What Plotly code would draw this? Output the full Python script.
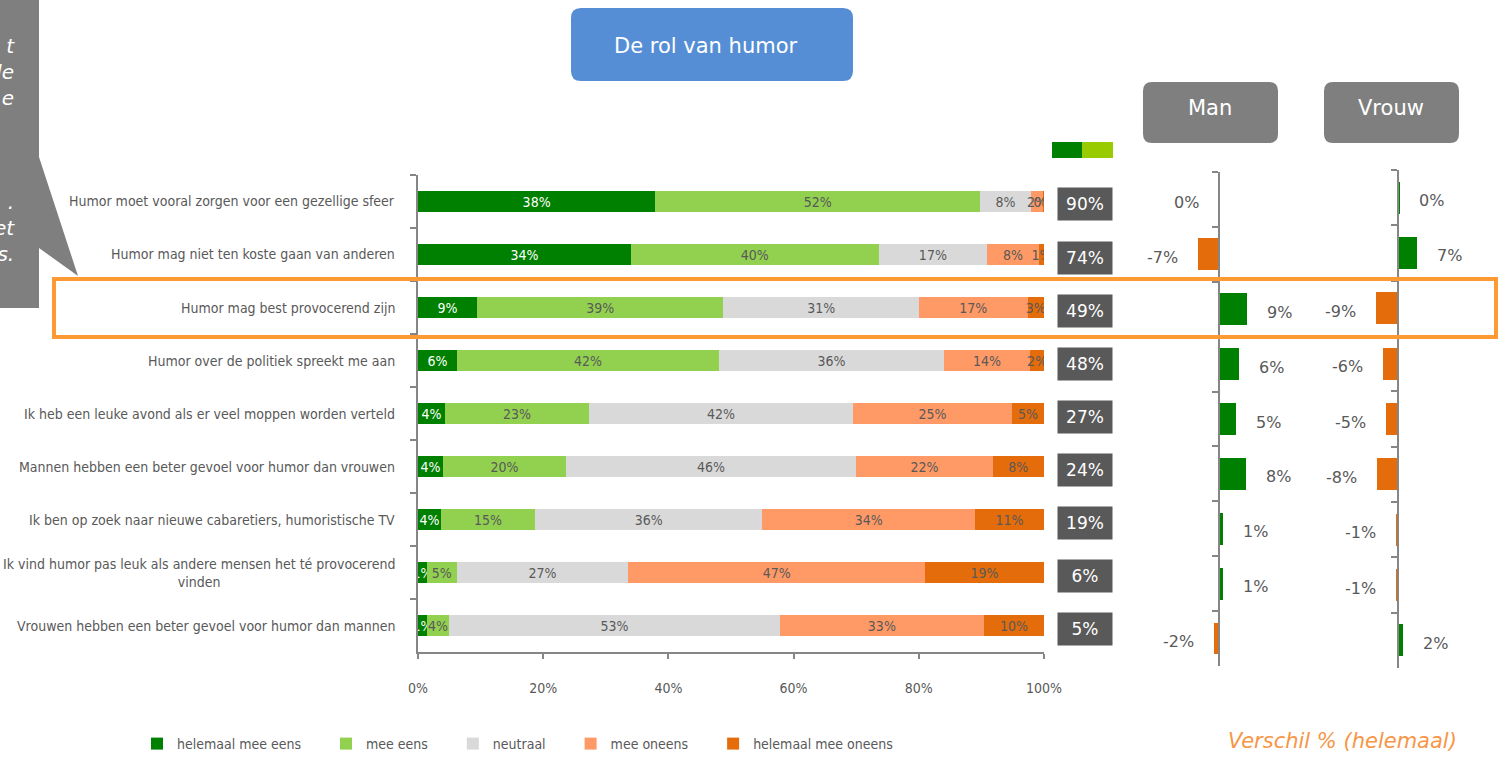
import plotly.graph_objects as go

W, H = 1498, 757

categories = [
    "Humor moet vooral zorgen voor een gezellige sfeer",
    "Humor mag niet ten koste gaan van anderen",
    "Humor mag best provocerend zijn",
    "Humor over de politiek spreekt me aan",
    "Ik heb een leuke avond als er veel moppen worden verteld",
    "Mannen hebben een beter gevoel voor humor dan vrouwen",
    "Ik ben op zoek naar nieuwe cabaretiers, humoristische TV",
    "Ik vind humor pas leuk als andere mensen het té provocerend<br>vinden",
    "Vrouwen hebben een beter gevoel voor humor dan mannen",
]

series_names = ["helemaal mee eens", "mee eens", "neutraal", "mee oneens", "helemaal mee oneens"]

helemaal_mee_eens = [37.9, 34.0, 9.4, 6.2, 4.3, 4.0, 3.7, 1.4, 1.4]
mee_eens = [51.9, 39.6, 39.4, 41.9, 23.0, 19.6, 15.0, 4.8, 3.6]
neutraal = [8.1, 17.3, 31.2, 35.9, 42.2, 46.4, 36.3, 27.4, 52.8]
mee_oneens = [2.0, 8.3, 17.4, 13.8, 25.4, 21.8, 34.0, 47.4, 32.6]
helemaal_mee_oneens = [0.1, 0.8, 2.6, 2.2, 5.1, 8.2, 11.0, 19.0, 9.6]

verschil_man = [-0.1, -6.6, 8.8, 6.4, 5.3, 8.4, 1.3, 1.3, -1.6]
verschil_vrouw = [0.4, 7.2, -8.6, -5.8, -4.6, -8.2, -0.8, -0.8, 1.8]

x_ticks = [0, 20, 40, 60, 80, 100]

series_values = [helemaal_mee_eens, mee_eens, neutraal, mee_oneens, helemaal_mee_oneens]
series_colors = ["#008000", "#92D050", "#D9D9D9", "#FF9966", "#E46C0A"]
series_text_colors = ["#FFFFFF", "#595959", "#595959", "#595959", "#595959"]

NARROW = "Liberation Sans Narrow, DejaVu Sans Condensed, Arial Narrow, sans-serif"
WIDE = "DejaVu Sans, Verdana, sans-serif"
GREY_TXT = "#595959"
AXIS_COL = "#868686"
POS_COL = "#008000"
NEG_COL = "#E46C0A"
PAD = "\u00a0" * 5


def px(x):
    return x / W


def py(y):
    return 1 - y / H


def rounded_rect(x0, y0, x1, y1, r):
    rx, ry = r / W, r / H
    X0, X1 = px(x0), px(x1)
    Y0, Y1 = py(y0), py(y1)
    return (f"M{X0+rx},{Y0} L{X1-rx},{Y0} Q{X1},{Y0} {X1},{Y0-ry} "
            f"L{X1},{Y1+ry} Q{X1},{Y1} {X1-rx},{Y1} L{X0+rx},{Y1} "
            f"Q{X0},{Y1} {X0},{Y1+ry} L{X0},{Y0-ry} Q{X0},{Y0} {X0+rx},{Y0} Z")


fig = go.Figure()

# main stacked bars
for i, (name, vals, col, tcol) in enumerate(zip(series_names, series_values, series_colors, series_text_colors)):
    fig.add_trace(go.Bar(
        y=categories, x=vals, orientation="h",
        name=name + (PAD if i < len(series_names) - 1 else ""),
        marker=dict(color=col, line=dict(width=0)),
        width=0.38,
        text=[f"{round(v)}%" for v in vals],
        textposition="inside", insidetextanchor="middle", textangle=0, constraintext="none",
        textfont=dict(family=NARROW, size=14, color=tcol),
        xaxis="x", yaxis="y", hoverinfo="skip",
    ))

# difference panels
for vals, xa, ya in [(verschil_man, "x2", "y2"), (verschil_vrouw, "x3", "y3")]:
    fig.add_trace(go.Bar(
        y=categories, x=vals, orientation="h", showlegend=False,
        marker=dict(color=[POS_COL if v >= 0 else NEG_COL for v in vals], line=dict(width=0)),
        width=0.58, xaxis=xa, yaxis=ya, hoverinfo="skip",
    ))

annotations = []

# category labels (centered multi-line, right anchored)
for c in categories:
    annotations.append(dict(
        xref="paper", yref="y", x=px(397), y=c, xanchor="right", yanchor="middle",
        text=c, showarrow=False, align="center",
        font=dict(family=NARROW, size=14, color=GREY_TXT),
    ))

# total (top-2) boxes
for c, a, b in zip(categories, helemaal_mee_eens, mee_eens):
    annotations.append(dict(
        xref="paper", yref="y", x=px(1085), y=c, yshift=-3,
        xanchor="center", yanchor="middle", text=f"{round(a + b)}%", showarrow=False,
        width=54, height=32, bgcolor="#595959", borderpad=0,
        font=dict(family=WIDE, size=17, color="#FFFFFF"),
    ))

# difference labels
for vals, xa, ya in [(verschil_man, "x2", "y2"), (verschil_vrouw, "x3", "y3")]:
    for c, v in zip(categories, vals):
        pos = v > 0
        annotations.append(dict(
            xref=xa, yref=ya, x=v, y=c, yshift=-3,
            xanchor="left" if pos else "right", xshift=18 if pos else -18,
            text=f"{round(v)}%", showarrow=False,
            font=dict(family=WIDE, size=16, color=GREY_TXT),
        ))

# headers and texts
annotations += [
    dict(xref="paper", yref="paper", x=px(706), y=py(46), text="De rol van humor", showarrow=False,
         xanchor="center", yanchor="middle", font=dict(family=WIDE, size=21, color="#FFFFFF")),
    dict(xref="paper", yref="paper", x=px(1210), y=py(108), text="Man", showarrow=False,
         xanchor="center", yanchor="middle", font=dict(family=WIDE, size=21, color="#FFFFFF")),
    dict(xref="paper", yref="paper", x=px(1391), y=py(108), text="Vrouw", showarrow=False,
         xanchor="center", yanchor="middle", font=dict(family=WIDE, size=21, color="#FFFFFF")),
    dict(xref="paper", yref="paper", x=px(1459), y=py(741), text="Verschil % (helemaal)", showarrow=False,
         xanchor="right", yanchor="middle", font=dict(family=WIDE, size=21, color="#F79646", style="italic")),
    dict(xref="paper", yref="paper", x=px(17), y=py(150), text="t<br>le<br>e<br> <br> <br> <br>.<br>et<br>s.",
         showarrow=False, xanchor="right", yanchor="middle", align="right",
         font=dict(family=WIDE, size=20, color="#FFFFFF", style="italic")),
]

shapes = [
    # callout
    dict(type="path", xref="paper", yref="paper", layer="below",
         path=(f"M{px(-2)},{py(-2)} L{px(39)},{py(-2)} L{px(39)},{py(157)} L{px(78)},{py(276)} "
               f"L{px(39)},{py(248)} L{px(39)},{py(308)} L{px(-2)},{py(308)} Z"),
         fillcolor="#7F7F7F", line=dict(width=0)),
    # title box
    dict(type="path", xref="paper", yref="paper", layer="below",
         path=rounded_rect(571, 8, 853, 81, 10), fillcolor="#558ED5", line=dict(width=0)),
    # Man / Vrouw headers
    dict(type="path", xref="paper", yref="paper", layer="below",
         path=rounded_rect(1143, 82, 1278, 143, 9), fillcolor="#7F7F7F", line=dict(width=0)),
    dict(type="path", xref="paper", yref="paper", layer="below",
         path=rounded_rect(1324, 82, 1459, 143, 9), fillcolor="#7F7F7F", line=dict(width=0)),
    # small key above totals
    dict(type="rect", xref="paper", yref="paper", x0=px(1052), x1=px(1082), y0=py(158), y1=py(142),
         fillcolor="#008000", line=dict(width=0)),
    dict(type="rect", xref="paper", yref="paper", x0=px(1082), x1=px(1113), y0=py(158), y1=py(142),
         fillcolor="#99CC00", line=dict(width=0)),
    # highlight rectangle
    dict(type="rect", xref="paper", yref="paper", x0=px(54), x1=px(1496), y0=py(337), y1=py(279),
         fillcolor="rgba(0,0,0,0)", line=dict(color="#FF9933", width=4), layer="above"),
]

cat_axis = dict(type="category", categoryorder="array", categoryarray=categories,
                range=[len(categories) - 0.5, -0.5], showline=True, linecolor=AXIS_COL, linewidth=1.5,
                ticks="outside", ticklen=6, tickcolor=AXIS_COL, tickwidth=1.5, tickson="boundaries",
                showticklabels=False, showgrid=False, zeroline=False, fixedrange=True, automargin=False)

fig.update_layout(
    template="none",
    width=W, height=H, margin=dict(l=0, r=0, t=0, b=0, pad=0, autoexpand=False),
    paper_bgcolor="#FFFFFF", plot_bgcolor="rgba(0,0,0,0)",
    barmode="stack",
    xaxis=dict(domain=[px(418), px(1044)], range=[0, 100], tickvals=x_ticks,
               ticktext=[f"{t}%" for t in x_ticks], showline=True, linecolor=AXIS_COL, linewidth=1.5,
               ticks="outside", ticklen=5, tickcolor=AXIS_COL, tickwidth=1.5, ticklabelstandoff=17,
               tickfont=dict(family=NARROW, size=14, color=GREY_TXT), showgrid=False, zeroline=False,
               anchor="y", fixedrange=True, automargin=False),
    yaxis=dict(domain=[py(652), py(175)], anchor="x", **cat_axis),
    xaxis2=dict(domain=[px(1171), px(1267)], range=[-15, 15], visible=False, anchor="y2",
                fixedrange=True, automargin=False),
    yaxis2=dict(domain=[py(666), py(172)], anchor="free", position=px(1219), **cat_axis),
    xaxis3=dict(domain=[px(1359), px(1437)], range=[-15, 15], visible=False, anchor="y3",
                fixedrange=True, automargin=False),
    yaxis3=dict(domain=[py(668), py(170)], anchor="free", position=px(1398), **cat_axis),
    legend=dict(orientation="h", x=px(137), y=py(744), xanchor="left", yanchor="middle",
                traceorder="normal", itemwidth=30, bgcolor="rgba(0,0,0,0)",
                font=dict(family=NARROW, size=14, color=GREY_TXT)),
    annotations=annotations, shapes=shapes, showlegend=True,
)

fig.write_html("out.html", config={"displayModeBar": False},
               post_script="document.body.style.margin='0';")
